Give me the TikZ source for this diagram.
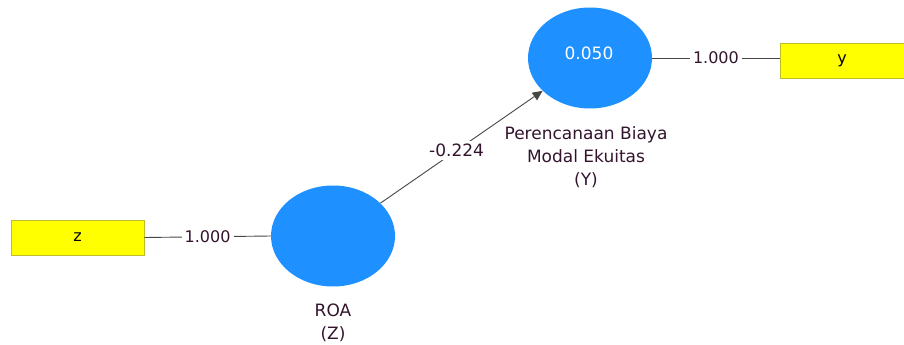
\documentclass[tikz,border=0pt]{standalone}
\usepackage{fontspec}
\setmainfont{DejaVu Sans}
\usetikzlibrary{arrows.meta,shapes.geometric}
\definecolor{lvblue}{RGB}{30,144,255}
\definecolor{indyel}{RGB}{255,255,0}
\definecolor{indbord}{RGB}{190,190,40}
\definecolor{edgec}{RGB}{70,70,70}
\definecolor{namec}{RGB}{50,20,45}
\begin{document}
\begin{tikzpicture}[x=1pt,y=-1pt,
  latent/.style={ellipse, fill=lvblue, minimum width=124pt, minimum height=101pt, inner sep=0pt},
  indicator/.style={rectangle, fill=indyel, draw=indbord, line width=0.8pt, minimum width=133pt, minimum height=35pt, font=\fontsize{16}{18}\selectfont},
  conn/.style={draw=edgec, line width=0.9pt},
  coef/.style={fill=white, inner sep=3pt, text=namec, font=\fontsize{16}{18}\selectfont},
  lvname/.style={align=center, font=\fontsize{17}{23}\selectfont, text=namec}
]
\useasboundingbox (0,0) rectangle (904,345);
\node[latent] (Y) at (590,58) {};
\node[text=white, font=\fontsize{17}{18}\selectfont] (Yv) at (589,53) {0.050};
\node[latent] (Z) at (333,236) {};
\node[indicator, minimum width=124pt] (ybox) at (842,60.5) {y};
\node[indicator] (zbox) at (77.5,237.5) {z};
\draw[conn] (Y.east) -- node[coef] (l1) {1.000} (Y.east -| ybox.west);
\draw[conn] (zbox.east) -- node[coef] (l2) {1.000} (Z.west);
\draw[conn, -{Triangle[length=10pt,width=9pt]}] (Z) -- node[coef, pos=0.47, font=\fontsize{17}{18}\selectfont] (l3) {-0.224} (Y);
\node[lvname] (Yname) at (586,157) {Perencanaan Biaya\\Modal Ekuitas\\(Y)};
\node[lvname] (Zname) at (333,323) {ROA\\(Z)};
\end{tikzpicture}
\end{document}
